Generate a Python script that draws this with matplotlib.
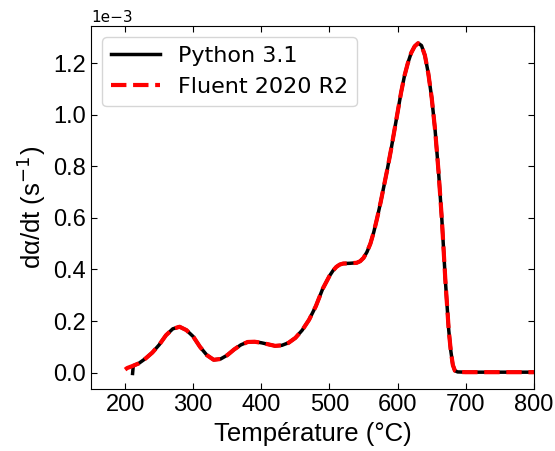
"""Conversion rate d(alpha)/dt vs temperature: Python 3.1 vs Fluent 2020 R2."""
import matplotlib
matplotlib.use("Agg")
import matplotlib.pyplot as plt

# temperature (°C) and rate (x1e-3 s^-1)
temp_fluent = [200, 203, 210, 220, 230, 240, 250, 260, 270, 280, 290, 300,
               310, 320, 330, 340, 350, 360, 370, 380, 390, 400, 410, 420,
               430, 440, 450, 460, 470, 480, 490, 500, 505, 510, 515, 520,
               530, 540, 545, 550, 555, 560, 565, 570, 575, 580, 585, 590,
               595, 600, 605, 610, 615, 620, 625, 630, 635, 640, 645, 650,
               655, 660, 665, 670, 675, 678, 681, 684, 688, 700, 750, 800]
rate_fluent = [0.012, 0.018, 0.025, 0.036, 0.055, 0.078, 0.108, 0.145, 0.170,
               0.178, 0.165, 0.140, 0.100, 0.068, 0.050, 0.053, 0.068, 0.090,
               0.108, 0.119, 0.120, 0.116, 0.110, 0.104, 0.106, 0.116, 0.135,
               0.165, 0.205, 0.258, 0.325, 0.375, 0.395, 0.410, 0.419, 0.423,
               0.424, 0.426, 0.432, 0.445, 0.468, 0.500, 0.545, 0.600, 0.660,
               0.725, 0.790, 0.860, 0.935, 1.010, 1.085, 1.150, 1.200, 1.240,
               1.265, 1.277, 1.268, 1.230, 1.160, 1.065, 0.940, 0.780, 0.590,
               0.360, 0.165, 0.085, 0.030, 0.008, 0.003, 0.002, 0.002, 0.002]

temp_python = [211, 212] + temp_fluent[3:]
rate_python = [-0.003, 0.027] + rate_fluent[3:]

x_ticks = [200, 300, 400, 500, 600, 700, 800]
y_ticks = [0.0, 0.2, 0.4, 0.6, 0.8, 1.0, 1.2]

SCALE = 1e-3

fig = plt.figure(figsize=(5.55, 4.51), dpi=100)
ax = fig.add_axes([0.164, 0.137, 0.798, 0.805])

ax.plot(temp_python, [v * SCALE for v in rate_python], "-", color="black",
        linewidth=2.5, label="Python 3.1")
ax.plot(temp_fluent, [v * SCALE for v in rate_fluent], "--", color="red",
        linewidth=3, label="Fluent 2020 R2")

ax.set_xlim(150, 800)
ax.set_ylim(-0.064e-3, 1.343e-3)
ax.set_xticks(x_ticks)
ax.set_yticks([v * SCALE for v in y_ticks])
ax.ticklabel_format(axis="y", style="sci", scilimits=(0, 0))
ax.tick_params(direction="in", top=True, right=True, length=4,
               labelsize=17)
for lbl in ax.get_xticklabels() + ax.get_yticklabels():
    lbl.set_family("Liberation Sans")
ax.yaxis.get_offset_text().set_fontsize(11)
ax.yaxis.get_offset_text().set_family("DejaVu Sans")

ax.set_xlabel("Température (°C)", fontsize=18.5, family="Liberation Sans")
ax.set_ylabel("dα/dt (s$^{-1}$)", fontsize=18.5, family="Liberation Sans")
ax.legend(loc="upper left", prop={"family": "DejaVu Sans", "size": 16},
          handlelength=2.2)

fig.savefig("out.png", dpi=100)
